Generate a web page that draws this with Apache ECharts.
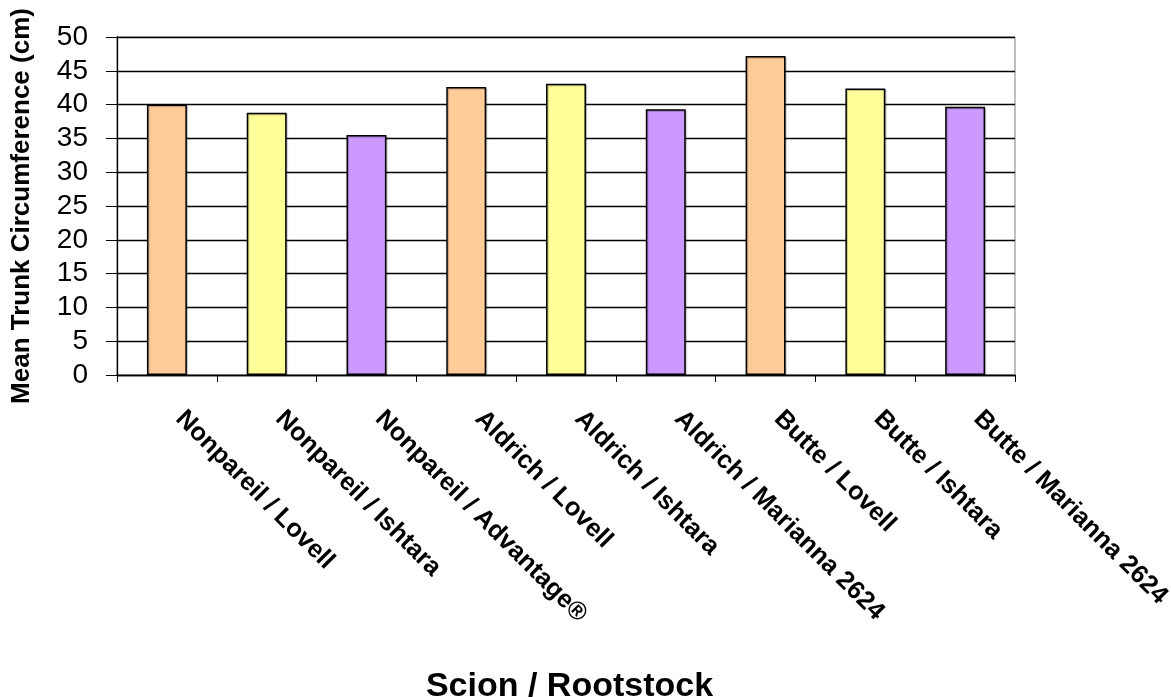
<!DOCTYPE html>
<html>
<head>
<meta charset="utf-8">
<title>Mean Trunk Circumference by Scion / Rootstock</title>
<script src="https://cdn.jsdelivr.net/npm/echarts@6/dist/echarts.min.js"></script>
<style>
  html, body { margin: 0; padding: 0; background: #fff; overflow: hidden; }
  #chart { width: 1171px; height: 697px; }
</style>
</head>
<body>
<div id="chart"></div>
<script>
// Scion / rootstock combinations along the x axis
const categories = [
  'Nonpareil / Lovell',
  'Nonpareil / Ishtara',
  'Nonpareil / Advantage®',
  'Aldrich / Lovell',
  'Aldrich / Ishtara',
  'Aldrich / Marianna 2624',
  'Butte / Lovell',
  'Butte / Ishtara',
  'Butte / Marianna 2624'
];

// Mean trunk circumference (cm) for each combination
const circumference = [40.0, 38.8, 35.5, 42.6, 43.1, 39.3, 47.2, 42.4, 39.7];

// Bar fill by rootstock group (Lovell, Ishtara, third rootstock)
const rootstockColors = ['#FFCC99', '#FFFF99', '#CC99FF'];

const FONT = '"Liberation Sans", Arial, Helvetica, sans-serif';

const chart = echarts.init(document.getElementById('chart'), null, { renderer: 'canvas' });

chart.setOption({
  backgroundColor: '#ffffff',
  animation: false,
  grid: {
    left: 117,
    right: 156,
    top: 37,
    bottom: 322,
    outerBoundsMode: 'none',
    containLabel: false,
    show: true,
    borderColor: '#808080',
    borderWidth: 1,
    backgroundColor: 'transparent'
  },
  xAxis: {
    type: 'category',
    data: categories,
    name: 'Scion / Rootstock',
    nameLocation: 'middle',
    nameGap: 312,
    nameTextStyle: {
      fontFamily: FONT,
      fontWeight: 'bold',
      fontSize: 34,
      color: '#000',
      verticalAlign: 'middle',
      padding: [0, 0, 0, 7]
    },
    axisLine: { show: true, lineStyle: { color: '#000', width: 1.3 } },
    axisTick: { show: true, length: 7, inside: false, lineStyle: { color: '#000', width: 1 } },
    axisLabel: {
      interval: 0,
      rotate: -45,
      margin: 27,
      padding: [0, 0, 0, 18],
      fontFamily: FONT,
      fontWeight: 'bold',
      fontSize: 25.5,
      color: '#000'
    },
    splitLine: { show: false }
  },
  yAxis: {
    type: 'value',
    min: 0,
    max: 50,
    interval: 5,
    name: 'Mean Trunk Circumference (cm)',
    nameLocation: 'middle',
    nameGap: 95,
    nameRotate: 90,
    nameTextStyle: {
      fontFamily: FONT,
      fontWeight: 'bold',
      fontSize: 26,
      color: '#000',
      verticalAlign: 'middle'
    },
    axisLine: { show: true, lineStyle: { color: '#000', width: 1.3 } },
    axisTick: { show: true, length: 11, inside: false, lineStyle: { color: '#000', width: 1 } },
    axisLabel: {
      margin: 29,
      fontFamily: FONT,
      fontSize: 28,
      color: '#000'
    },
    splitLine: { show: true, lineStyle: { color: '#000', width: 1.3 } }
  },
  series: [{
    type: 'bar',
    barWidth: '40%',
    data: circumference.map((v, i) => ({
      value: v,
      itemStyle: { color: rootstockColors[i % rootstockColors.length] }
    })),
    itemStyle: {
      borderColor: '#000',
      borderWidth: 1.5,
      shadowColor: 'rgba(0,0,0,0.25)',
      shadowOffsetX: 1,
      shadowOffsetY: 1,
      shadowBlur: 1
    }
  }]
});
</script>
</body>
</html>
